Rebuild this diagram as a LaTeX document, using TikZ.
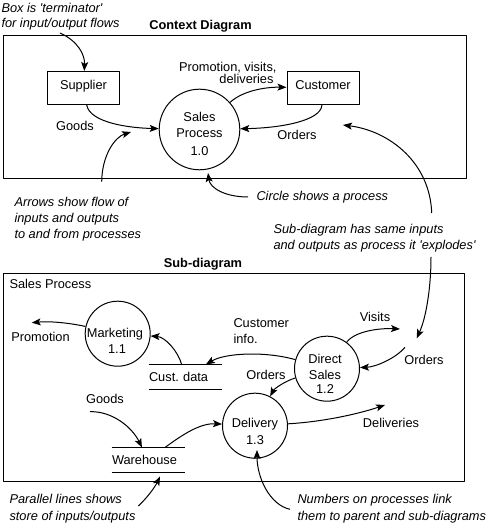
\documentclass[tikz,border=0pt]{standalone}
\usepackage{fontspec}
\setmainfont{Liberation Sans}
\usetikzlibrary{arrows.meta}
\frenchspacing
\begin{document}
\begin{tikzpicture}[>={Stealth[length=9bp,width=7bp,inset=2bp]},line join=bevel,line width=1bp,
  every node/.style={inner sep=0pt,text height=9.2bp,text depth=0bp,font=\fontsize{12.8bp}{16bp}\selectfont},
  note/.style={anchor=west,font=\fontsize{12.8bp}{16bp}\selectfont\itshape},
  heading/.style={font=\fontsize{12.8bp}{16bp}\selectfont\bfseries},
  terminator/.style={draw,minimum width=72bp,minimum height=33bp,text depth=6.6bp},
  process/.style={draw,circle,minimum size=#1},
  store/.style={text width=72bp,align=left,minimum height=24bp},
]
\useasboundingbox (0bp,0bp) rectangle (499bp,523bp);
%% context diagram
\draw (3.5bp,344bp) rectangle (466.5bp,487bp);
\node (node_title_0) at (200.5bp,498bp) [heading] {Context Diagram};
\node (node_supplier) at (83.5bp,435bp) [terminator] {Supplier};
\node (node_customer) at (323bp,435bp) [terminator] {Customer};
\node (node_sales) at (199.5bp,393.5bp) [process=80.6bp] {};
  \node (node_sales_0) at (199.5bp,406.3bp) {Sales};
  \node (node_sales_1) at (199.5bp,390.3bp) {Process};
  \node (node_sales_2) at (199.5bp,372.3bp) {1.0};
\node (node_promo_0) at (277bp,456.3bp) [anchor=east] {Promotion, visits,};
  \node (node_promo_1) at (274bp,443.7bp) [anchor=east] {deliveries};
\node (node_goods_0) at (75bp,397.5bp) {Goods};
\node (node_orders_0) at (297bp,388bp) {Orders};
\draw [black,->] (node_sales) ..controls (245bp,434bp) and (270bp,436bp) .. (node_customer);
\draw [black,->] (node_customer) ..controls (321bp,402bp) and (280bp,395bp) .. (node_sales);
\draw [black,->] (node_supplier) ..controls (90bp,400bp) and (130bp,395bp) .. (node_sales);
%
%% notes on the context diagram
\node (node_note_0) at (1bp,515bp) [note] {Box is \textquotesingle terminator\textquotesingle};
  \node (node_note_1) at (1bp,500bp) [note] {for input/output flows};
\coordinate (note_0_out) at (60bp,490bp);
\draw [black,->] (note_0_out) ..controls (78bp,482bp) and (85bp,468bp) .. (node_supplier);
\node (node_note_2) at (14bp,321bp) [note] {Arrows show flow of};
  \node (node_note_3) at (14bp,305bp) [note] {inputs and outputs};
  \node (node_note_4) at (14bp,289bp) [note] {to and from processes};
\coordinate (note_2_out) at (101.7bp,341.3bp);
\coordinate (note_2_in) at (131bp,391bp);
\draw [black,->] (note_2_out) ..controls (102bp,368bp) and (115bp,386bp) .. (note_2_in);
\node (node_note_5) at (256bp,327bp) [note] {Circle shows a process};
\coordinate (note_5_out) at (248bp,326bp);
\coordinate (note_5_in) at (208bp,350bp);
\draw [black,->] (note_5_out) ..controls (225bp,326bp) and (210bp,335bp) .. (note_5_in);
\node (node_note_6) at (273bp,294bp) [note] {Sub-diagram has same inputs};
  \node (node_note_7) at (273bp,278bp) [note] {and outputs as process it \textquotesingle explodes\textquotesingle};
\coordinate (note_6_out) at (431.7bp,310bp);
\coordinate (note_6_in) at (343bp,398bp);
\draw [black,->] (note_6_out) ..controls (430bp,360bp) and (390bp,392bp) .. (note_6_in);
\coordinate (note_7_out) at (431bp,266bp);
\coordinate (note_7_in) at (416.7bp,184.7bp);
\draw [black,->] (note_7_out) ..controls (431bp,235bp) and (426bp,205bp) .. (note_7_in);
%
%% sub-diagram
\draw (3.5bp,41bp) rectangle (464.5bp,249bp);
\node (node_title_1) at (203bp,260.3bp) [heading] {Sub-diagram};
\node (node_frame) at (9bp,239bp) [anchor=west] {Sales Process};
\node (node_marketing) at (117.7bp,189.3bp) [process=65bp] {};
  \node (node_marketing_0) at (115bp,190.3bp) {Marketing};
  \node (node_marketing_1) at (117bp,173.7bp) {1.1};
\node (node_direct) at (327bp,154.3bp) [process=65bp] {};
  \node (node_direct_0) at (325bp,164bp) {Direct};
  \node (node_direct_1) at (325bp,148bp) {Sales};
  \node (node_direct_2) at (325bp,134bp) {1.2};
\node (node_delivery) at (255bp,97.3bp) [process=65bp] {};
  \node (node_delivery_0) at (255bp,100bp) {Delivery};
  \node (node_delivery_1) at (255bp,83bp) {1.3};
\node (node_custdata) at (185bp,146bp) [store] {Cust. data};
\draw (node_custdata.north west) -- (node_custdata.north east)
      (node_custdata.south west) -- (node_custdata.south east);
\node (node_warehouse) at (148bp,63bp) [store] {Warehouse};
\draw (node_warehouse.north west) -- (node_warehouse.north east)
      (node_warehouse.south west) -- (node_warehouse.south east);
%
\node (node_promotion) at (40.5bp,185.7bp) {Promotion};
\node (node_info_0) at (233bp,200bp) [anchor=west] {Customer};
  \node (node_info_1) at (233bp,184bp) [anchor=west] {info.};
\node (node_visits) at (375bp,206bp) {Visits};
\node (node_orders_1) at (424bp,163bp) {Orders};
\node (node_orders_2) at (266bp,148bp) {Orders};
\node (node_goods_1) at (105bp,124bp) {Goods};
\node (node_deliveries) at (391bp,100bp) {Deliveries};
\coordinate (promotion_in) at (31.7bp,200.3bp);
\coordinate (visits_in) at (400bp,194bp);
\coordinate (orders_out) at (405bp,175.7bp);
\coordinate (goods_out) at (90bp,111.3bp);
\coordinate (deliveries_in) at (385bp,118bp);
\draw [black,->] (node_marketing) ..controls (70bp,200bp) and (50bp,202bp) .. (promotion_in);
\draw [black,->] (node_custdata) ..controls (178bp,172bp) and (165bp,186bp) .. (node_marketing);
\draw [black,->] (node_direct) ..controls (265bp,172bp) and (225bp,170bp) .. (node_custdata);
\draw [black,->] (node_direct) ..controls (355bp,192bp) and (380bp,195bp) .. (visits_in);
\draw [black,->] (orders_out) ..controls (395bp,164bp) and (375bp,156bp) .. (node_direct);
\draw [black,->] (node_direct) ..controls (285bp,142bp) and (274bp,134bp) .. (node_delivery);
\draw [black,->] (goods_out) ..controls (112bp,112bp) and (132bp,96bp) .. (node_warehouse);
\draw [black,->] (node_warehouse) ..controls (182bp,88bp) and (200bp,100bp) .. (node_delivery);
\draw [black,->] (node_delivery) ..controls (320bp,101bp) and (355bp,108bp) .. (deliveries_in);
%
%% notes on the sub-diagram
\node (node_note_8) at (9bp,24bp) [note] {Parallel lines shows};
  \node (node_note_9) at (9bp,7bp) [note] {store of inputs/outputs};
\coordinate (note_8_out) at (138.3bp,17bp);
\coordinate (note_8_in) at (160bp,46.5bp);
\draw [black,->] (note_8_out) ..controls (147bp,25bp) and (155bp,36bp) .. (note_8_in);
\node (node_note_10) at (297bp,24bp) [note] {Numbers on processes link};
  \node (node_note_11) at (297bp,7bp) [note] {them to parent and sub-diagrams};
\coordinate (note_10_out) at (290bp,13.7bp);
\coordinate (note_10_in) at (257bp,73bp);
\draw [black,->] (note_10_out) ..controls (270bp,18bp) and (257bp,45bp) .. (note_10_in);
%
\end{tikzpicture}
\end{document}
